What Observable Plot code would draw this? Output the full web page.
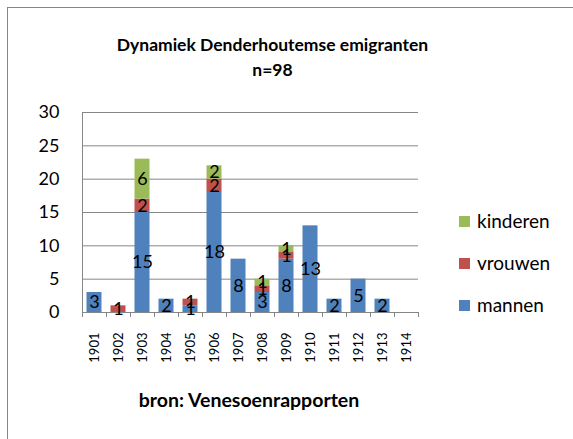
<!DOCTYPE html>
<html>
<head>
<meta charset="utf-8">
<script src="https://cdn.jsdelivr.net/npm/d3@7"></script>
<script src="https://cdn.jsdelivr.net/npm/@observablehq/plot@0.6"></script>
<style>
  html, body { margin: 0; padding: 0; background: #fff; }
  #wrap { position: relative; width: 573px; height: 439px; overflow: hidden; font-family: Lato, sans-serif; color: #000; }
  #frame { position: absolute; left: 7px; top: 7px; width: 700px; height: 600px; border-left: 1px solid #868686; border-top: 1px solid #868686; }
  #chart { position: absolute; left: 0; top: 0; }
  .title { position: absolute; left: 0; width: 545px; text-align: center; font-weight: bold; font-size: 17.5px; line-height: 20px; }
  #caption { position: absolute; left: 0; width: 498px; top: 390px; text-align: center; font-weight: bold; font-size: 19.5px; line-height: 20px; }
  .leg { position: absolute; left: 459px; font-size: 19px; line-height: 22px; white-space: nowrap; }
  .leg span.sw { position: absolute; left: 0; top: 5px; width: 11px; height: 11px; }
  .leg span.lb { position: absolute; left: 18px; top: -1px; }
</style>
</head>
<body>
<div id="wrap">
  <div id="frame"></div>
  <div id="chart"></div>
  <div class="title" style="top:35px">Dynamiek Denderhoutemse emigranten</div>
  <div class="title" style="top:60px">n=98</div>
  <div id="legend"></div>
  <div id="caption">bron: Venesoenrapporten</div>
</div>
<script>
const years = [1901, 1902, 1903, 1904, 1905, 1906, 1907, 1908, 1909, 1910, 1911, 1912, 1913, 1914];
const mannen   = [3, 0, 15, 2, 1, 18, 8, 3, 8, 13, 2, 5, 2, 0];
const vrouwen  = [0, 1, 2, 0, 1, 2, 0, 1, 1, 0, 0, 0, 0, 0];
const kinderen = [0, 0, 6, 0, 0, 2, 0, 1, 1, 0, 0, 0, 0, 0];
const seriesNames = ["mannen", "vrouwen", "kinderen"];
const seriesColors = ["#4F81BD", "#C0504D", "#9BBB59"];
const yTicks = [0, 5, 10, 15, 20, 25, 30];

const seriesValues = {mannen, vrouwen, kinderen};
const rows = [];
for (const s of seriesNames) {
  years.forEach((yr, i) => {
    const v = seriesValues[s][i];
    if (v > 0) rows.push({year: yr, series: s, value: v});
  });
}

const gray = "#868686";
const chart = Plot.plot({
  width: 573,
  height: 439,
  marginLeft: 82,
  marginRight: 155,
  marginTop: 112,
  marginBottom: 127,
  style: {fontFamily: "Lato, sans-serif", fontSize: "18px", color: "#000", background: "transparent", overflow: "visible"},
  x: {type: "band", domain: years, padding: 0, label: null},
  y: {domain: [0, 30], ticks: yTicks, label: null},
  color: {domain: seriesNames, range: seriesColors},
  marks: [
    Plot.gridY(yTicks, {stroke: gray, strokeOpacity: 1}),
    Plot.ruleX([years[0]], {dx: -12, y1: 0, y2: 30, stroke: gray}),
    Plot.ruleX(years, {dx: -12, y1: 0, y2: 0, insetBottom: -5, stroke: gray}),
    Plot.ruleX([years[years.length - 1]], {dx: 12, y1: 0, y2: 0, insetBottom: -5, stroke: gray}),
    Plot.barY(rows, Plot.stackY({x: "year", y: "value", fill: "series", order: seriesNames, insetLeft: 4.5, insetRight: 4.5})),
    Plot.text(rows, Plot.stackY({x: "year", y: "value", z: "series", order: seriesNames, text: "value", fill: "#000", fontSize: 18})),
    Plot.axisY({ticks: yTicks, tickSize: 0, tickPadding: 23, fontSize: 18, label: null}),
    Plot.axisX({tickSize: 0, tickRotate: -90, tickPadding: 20, fontSize: 13, label: null, tickFormat: d => String(d)})
  ]
});
document.getElementById("chart").appendChild(chart);

const legendTops = {kinderen: 211, vrouwen: 253, mannen: 295};
const legend = document.getElementById("legend");
for (const s of ["kinderen", "vrouwen", "mannen"]) {
  const d = document.createElement("div");
  d.className = "leg";
  d.style.top = legendTops[s] + "px";
  d.innerHTML = `<span class="sw" style="background:${seriesColors[seriesNames.indexOf(s)]}"></span><span class="lb">${s}</span>`;
  legend.appendChild(d);
}
</script>
</body>
</html>
